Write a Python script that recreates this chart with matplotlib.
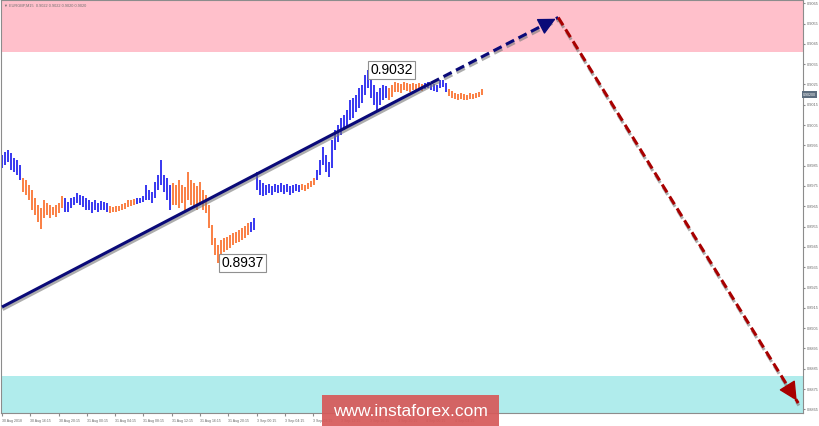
import matplotlib
matplotlib.use('Agg')
import matplotlib.pyplot as plt
import matplotlib.patheffects as pe
import numpy as np

# M15 bars, high / low
highs = [0.89902, 0.89917, 0.89927, 0.89912, 0.89888, 0.89878, 0.89853, 0.89789, 0.89779, 0.89755,
         0.89730, 0.89691, 0.89656, 0.89641, 0.89681, 0.89666, 0.89656, 0.89646, 0.89656, 0.89666,
         0.89700, 0.89691, 0.89671, 0.89691, 0.89696, 0.89715, 0.89705, 0.89700, 0.89691, 0.89681,
         0.89671, 0.89681, 0.89666, 0.89676, 0.89671, 0.89666, 0.89651, 0.89646, 0.89651, 0.89651,
         0.89661, 0.89666, 0.89681, 0.89681, 0.89686, 0.89691, 0.89691, 0.89700, 0.89755, 0.89730,
         0.89720, 0.89769, 0.89804, 0.89878, 0.89804, 0.89789, 0.89755, 0.89764, 0.89755, 0.89779,
         0.89755, 0.89745, 0.89819, 0.89779, 0.89764, 0.89750, 0.89769, 0.89730, 0.89705, 0.89656,
         0.89558, 0.89494, 0.89459, 0.89484, 0.89494, 0.89499, 0.89508, 0.89518, 0.89523, 0.89533,
         0.89543, 0.89553, 0.89567, 0.89572, 0.89592, 0.89819, 0.89779, 0.89764, 0.89755, 0.89760,
         0.89750, 0.89760, 0.89755, 0.89764, 0.89755, 0.89760, 0.89750, 0.89755, 0.89760, 0.89755,
         0.89760, 0.89755, 0.89764, 0.89774, 0.89789, 0.89829, 0.89878, 0.89942, 0.89902, 0.89868,
         0.89976, 0.90026, 0.90050, 0.90085, 0.90099, 0.90124, 0.90173, 0.90183, 0.90198, 0.90232,
         0.90247, 0.90297, 0.90320, 0.90282, 0.90247, 0.90213, 0.90232, 0.90247, 0.90242, 0.90232,
         0.90247, 0.90262, 0.90257, 0.90252, 0.90262, 0.90257, 0.90252, 0.90257, 0.90252, 0.90257,
         0.90252, 0.90257, 0.90262, 0.90257, 0.90252, 0.90247, 0.90272, 0.90272, 0.90257, 0.90228,
         0.90218, 0.90208, 0.90203, 0.90208, 0.90203, 0.90198, 0.90208, 0.90203, 0.90208, 0.90213,
         0.90228]
lows = [0.89838, 0.89853, 0.89868, 0.89829, 0.89819, 0.89804, 0.89779, 0.89720, 0.89705, 0.89681,
        0.89631, 0.89607, 0.89572, 0.89538, 0.89592, 0.89607, 0.89592, 0.89607, 0.89597, 0.89617,
        0.89641, 0.89622, 0.89622, 0.89641, 0.89656, 0.89666, 0.89656, 0.89646, 0.89631, 0.89631,
        0.89617, 0.89631, 0.89622, 0.89631, 0.89631, 0.89622, 0.89617, 0.89622, 0.89622, 0.89627,
        0.89631, 0.89636, 0.89646, 0.89651, 0.89656, 0.89661, 0.89666, 0.89671, 0.89681, 0.89681,
        0.89666, 0.89691, 0.89730, 0.89755, 0.89720, 0.89681, 0.89631, 0.89656, 0.89656, 0.89641,
        0.89666, 0.89631, 0.89681, 0.89656, 0.89641, 0.89631, 0.89656, 0.89631, 0.89617, 0.89543,
        0.89459, 0.89410, 0.89370, 0.89410, 0.89425, 0.89434, 0.89444, 0.89459, 0.89469, 0.89474,
        0.89484, 0.89494, 0.89508, 0.89523, 0.89533, 0.89730, 0.89705, 0.89700, 0.89705, 0.89715,
        0.89705, 0.89720, 0.89715, 0.89720, 0.89710, 0.89720, 0.89705, 0.89715, 0.89725, 0.89720,
        0.89730, 0.89725, 0.89735, 0.89745, 0.89755, 0.89779, 0.89804, 0.89853, 0.89819, 0.89794,
        0.89838, 0.89927, 0.89966, 0.90001, 0.90026, 0.90035, 0.90075, 0.90085, 0.90114, 0.90134,
        0.90159, 0.90198, 0.90232, 0.90183, 0.90149, 0.90124, 0.90149, 0.90173, 0.90183, 0.90173,
        0.90188, 0.90213, 0.90213, 0.90208, 0.90223, 0.90218, 0.90213, 0.90223, 0.90218, 0.90223,
        0.90218, 0.90228, 0.90232, 0.90223, 0.90218, 0.90213, 0.90232, 0.90237, 0.90213, 0.90193,
        0.90183, 0.90178, 0.90173, 0.90178, 0.90173, 0.90173, 0.90178, 0.90178, 0.90183, 0.90188,
        0.90198]

# wave segments (first bar, last bar, up/down)
waves = [(0, 6, 'up'), (7, 20, 'down'), (21, 35, 'up'), (36, 44, 'down'), (45, 56, 'up'),
         (57, 82, 'down'), (83, 99, 'up'), (100, 104, 'down'), (105, 128, 'up'),
         (129, 140, 'down'), (141, 148, 'up'), (149, 160, 'down')]

# trend line and forecast (bar index, price)
trend_start = (0, 0.89154)
trend_break = (143, 0.90257)
target_high = (185.4, 0.90580)
target_low = (265.4, 0.88681)

resistance_zone = (0.90410, 0.90700)
support_zone = (0.88600, 0.88814)

time_labels = ['30 Aug 2018', '30 Aug 16:15', '30 Aug 20:15', '31 Aug 00:15', '31 Aug 04:15',
               '31 Aug 08:15', '31 Aug 12:15', '31 Aug 16:15', '31 Aug 20:15', '3 Sep 00:15',
               '3 Sep 04:15', '3 Sep 08:15', '3 Sep 12:15', '3 Sep 16:15', '3 Sep 20:15',
               '4 Sep 00:15', '4 Sep 04:15']
price_ticks = [round(0.8865 + 0.001 * k, 4) for k in range(21)]
last_price = 0.90200

BLUE = '#3030f0'
ORANGE = '#fa7a3c'
NAVY = '#0a0a78'
DARKRED = '#a80000'
SMALL = 'Liberation Sans'

fig = plt.figure(figsize=(8.2, 4.26), dpi=100)
ax = fig.add_axes([1 / 820, 13 / 426, 802 / 820, 413 / 426])
ax.set_xlim(-0.33, 267.0)
ax.set_ylim(0.88632, 0.90666)

ax.axhspan(*resistance_zone, color='#ffc0cb', lw=0, zorder=0)
ax.axhspan(*support_zone, color='#b0ecec', lw=0, zorder=0)

colors = []
for a, b, kind in waves:
    colors += [BLUE if kind == 'up' else ORANGE] * (b - a + 1)
x = np.arange(len(highs))
ax.vlines(x, lows, highs, colors=colors, lw=1.35, zorder=2)

# trend line
shadow = [pe.SimpleLineShadow(offset=(0.5, -1.8), shadow_color='#777777', alpha=0.6), pe.Normal()]
ax.plot([trend_start[0], trend_break[0]], [trend_start[1], trend_break[1]], color=NAVY, lw=2.2,
        solid_capstyle='butt', zorder=4, path_effects=shadow)
ax.plot([trend_break[0], target_high[0]], [trend_break[1], target_high[1]], color=NAVY, lw=2.2,
        ls=(0, (3, 1.6)), zorder=4, path_effects=shadow)
ax.annotate('', xy=target_high,
            xytext=(target_high[0] - 4, target_high[1] - (target_high[1] - trend_break[1]) * 4 / (target_high[0] - trend_break[0])),
            arrowprops=dict(arrowstyle='-|>,head_length=0.9,head_width=0.45', color=NAVY, lw=1,
                            mutation_scale=12), zorder=5)

# forecast down
ax.plot([target_high[0], target_low[0]], [target_high[1], target_low[1]], color=DARKRED, lw=2.2,
        ls=(0, (3, 1.6)), zorder=4, path_effects=shadow)
dx = target_low[0] - target_high[0]
dy = target_low[1] - target_high[1]
ax.annotate('', xy=target_low, xytext=(target_low[0] - dx * 0.05, target_low[1] - dy * 0.05),
            arrowprops=dict(arrowstyle='-|>,head_length=0.9,head_width=0.45', color=DARKRED, lw=1,
                            mutation_scale=13), zorder=5)

# extreme labels
i_hi = int(np.argmax(highs))
i_lo = int(np.argmin(lows))
box = dict(boxstyle='square,pad=0.15', fc='white', ec='#909090', lw=0.8)
ax.annotate(f'{highs[i_hi]:.4f}', xy=(i_hi, highs[i_hi]), xytext=(1.5, 0), textcoords='offset points',
            ha='left', va='center', fontsize=10, family='Liberation Sans', bbox=box, zorder=6)
ax.annotate(f'{lows[i_lo]:.4f}', xy=(i_lo, lows[i_lo]), xytext=(2.5, 0), textcoords='offset points',
            ha='left', va='center', fontsize=10, family='Liberation Sans', bbox=box, zorder=6)

# axes styling
for s in ax.spines.values():
    s.set_color('#8c8c8c')
    s.set_linewidth(0.8)
ax.yaxis.tick_right()
ax.set_yticks(price_ticks)
ax.set_yticklabels([f'{v:.4f}' for v in price_ticks], family=SMALL)
ax.tick_params(axis='y', labelsize=2.8, labelcolor='#666666', color='#8c8c8c', length=1.5, pad=1)
tick_step = 9.43
ax.set_xticks(np.arange(len(time_labels)) * tick_step)
ax.set_xticklabels(time_labels, ha='left', family=SMALL)
ax.tick_params(axis='x', labelsize=2.5, labelcolor='#666666', color='#8c8c8c', length=2, pad=2)

ax.text(1.0, last_price, f'{last_price:.5f}', transform=ax.get_yaxis_transform(), ha='left', va='center',
        fontsize=2.6, family=SMALL, color='white',
        bbox=dict(boxstyle='square,pad=0.35', fc='#5d6d7e', ec='none'), zorder=7, clip_on=False)

ax.text(0.004, 0.992, '\u25bc EURGBP,M15  0.9022 0.9022 0.9020 0.9020', transform=ax.transAxes,
        ha='left', va='top', fontsize=2.8, family=[SMALL, 'DejaVu Sans'], color='#707070')

# watermark
fig.patches.append(plt.Rectangle((322 / 820, 0), 177 / 820, 31 / 426, transform=fig.transFigure,
                                 fc='#d65a5a', ec='none', alpha=0.93, zorder=10))
fig.text(410 / 820, 15 / 426, 'www.instaforex.com', ha='center', va='center', fontsize=12.5,
         family='Liberation Sans', color='white', zorder=11)

fig.savefig('out.png', dpi=100)
